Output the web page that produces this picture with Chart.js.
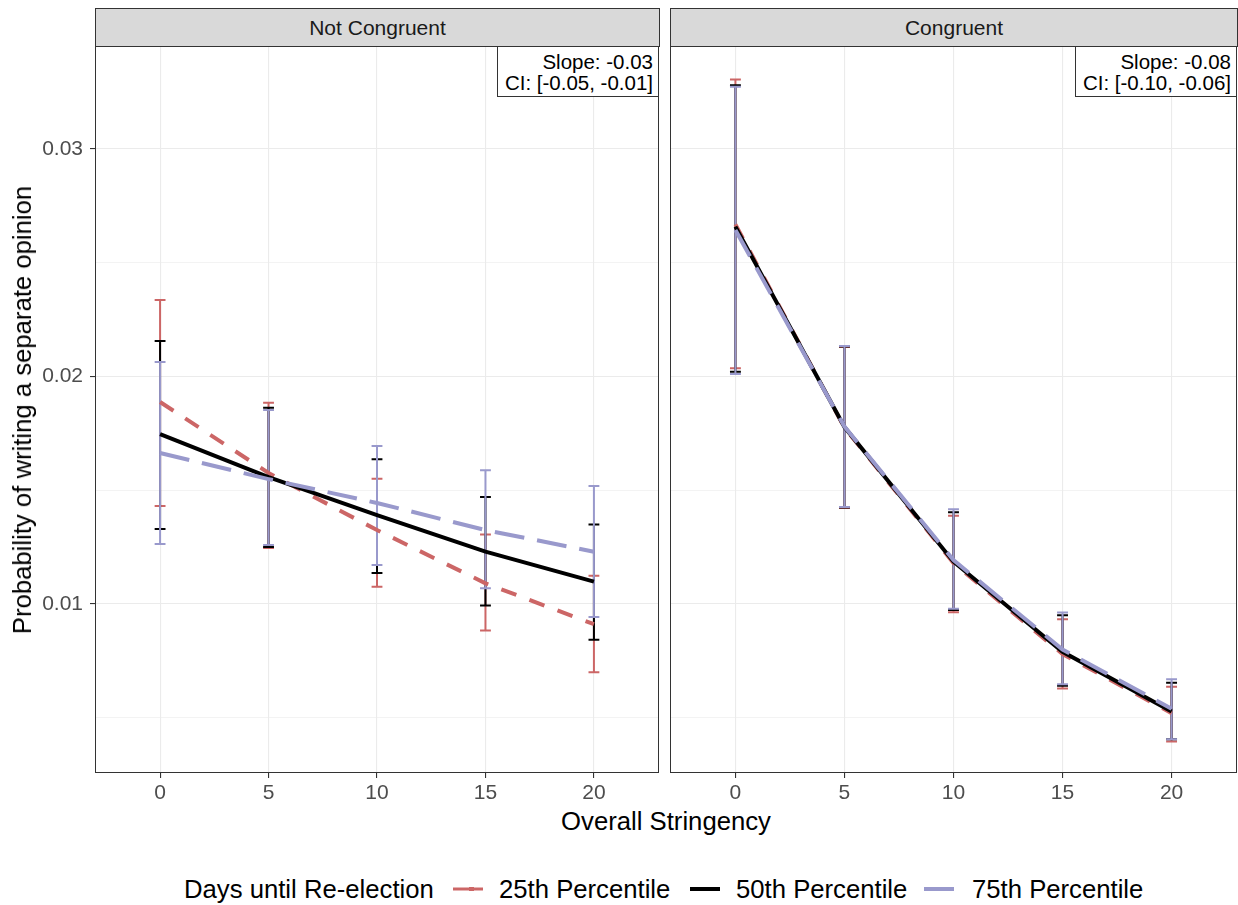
<!DOCTYPE html>
<html>
<head>
<meta charset="utf-8">
<script src="https://cdn.jsdelivr.net/npm/chart.js@4.4.1/dist/chart.umd.min.js"></script>
<style>
  body { margin: 0; background: #fff; font-family: "Liberation Sans", Arial, Helvetica, sans-serif; }
  #wrap { position: relative; width: 1238px; height: 905px; overflow: hidden; background: #fff; }
  canvas { position: absolute; }
  .strip { position: absolute; top: 8px; height: 39px; background: #D9D9D9; border: 1px solid #333; box-sizing: border-box;
           font-size: 21px; color: #1A1A1A; display: flex; align-items: center; justify-content: center; }
  .note { position: absolute; top: 46px; height: 51px; width: 162px; background: #fff; border: 1px solid #333; box-sizing: border-box;
          text-align: right; font-size: 20.5px; line-height: 21px; padding: 4px 5px 0 0; color: #000; white-space: nowrap; z-index: 2; }
  .txt { position: absolute; white-space: nowrap; color: #000; }
  .leg { position: absolute; top: 874px; height: 30px; font-size: 25.7px; line-height: 30px; white-space: nowrap; color: #000; }
  svg.key { position: absolute; top: 884px; }
</style>
</head>
<body>
<div id="wrap">
  <canvas id="cLeft" width="660" height="760" style="left:0px; top:46px;"></canvas>
  <canvas id="cRight" width="568" height="760" style="left:670px; top:46px;"></canvas>

  <div class="strip" id="s0" style="left:95px; width:565px;"></div>
  <div class="strip" id="s1" style="left:670px; width:568px;"></div>

  <div class="note" id="n0" style="left:497px;"></div>
  <div class="note" id="n1" style="left:1075px;"></div>

  <div class="txt" id="xtitle" style="left:0; width:1332px; top:806px; text-align:center; font-size:25.7px; line-height:30px;"></div>
  <div class="txt" id="ytitle" style="left:22px; top:410px; font-size:25.7px; line-height:30px; transform: translate(-50%,-50%) rotate(-90deg);"></div>

  <div class="leg" id="legTitle" style="left:184px;"></div>
  <svg class="key" style="left:453px;" width="30" height="10"><line x1="0" y1="5" x2="30" y2="5" stroke="#CC6666" stroke-width="3"/><line x1="16" y1="5" x2="21" y2="5" stroke="#CC6666" stroke-width="4"/></svg>
  <div class="leg" id="leg0" style="left:499px;"></div>
  <svg class="key" style="left:690px;" width="30" height="10"><line x1="0" y1="5" x2="30" y2="5" stroke="#000000" stroke-width="4"/></svg>
  <div class="leg" id="leg1" style="left:736px;"></div>
  <svg class="key" style="left:924px;" width="30" height="10"><line x1="0" y1="5" x2="30" y2="5" stroke="#9999CC" stroke-width="4"/></svg>
  <div class="leg" id="leg2" style="left:972px;"></div>
</div>

<script>
// ---------- data ----------
const stringency = [0, 5, 10, 15, 20];
const xTickValues = [0, 5, 10, 15, 20];
const yMajorTicks = [0.01, 0.02, 0.03];
const yMajorLabels = ['0.01', '0.02', '0.03'];
const yMinorTicks = [0.005, 0.015, 0.025];
const panelTitles = ['Not Congruent', 'Congruent'];
const seriesNames = ['25th Percentile', '50th Percentile', '75th Percentile'];
const legendTitle = 'Days until Re-election';
const slopeText = ['Slope: -0.03', 'Slope: -0.08'];
const ciText = ['CI: [-0.05, -0.01]', 'CI: [-0.10, -0.06]'];
const xTitle = 'Overall Stringency';
const yTitle = 'Probability of writing a separate opinion';

// Not Congruent
const nc25   = [0.01888, 0.01576, 0.01325, 0.01091, 0.00911];
const nc25Lo = [0.01431, 0.01246, 0.01076, 0.00883, 0.00700];
const nc25Hi = [0.02336, 0.01885, 0.01551, 0.01306, 0.01124];
const nc50   = [0.01747, 0.01558, 0.01391, 0.01230, 0.01098];
const nc50Lo = [0.01330, 0.01251, 0.01136, 0.00993, 0.00843];
const nc50Hi = [0.02156, 0.01863, 0.01636, 0.01470, 0.01349];
const nc75   = [0.01664, 0.01549, 0.01444, 0.01325, 0.01230];
const nc75Lo = [0.01264, 0.01259, 0.01171, 0.01069, 0.00943];
const nc75Hi = [0.02064, 0.01853, 0.01695, 0.01588, 0.01519];

// Congruent
const c25   = [0.02669, 0.01775, 0.01180, 0.00780, 0.00520];
const c25Lo = [0.02036, 0.01422, 0.00964, 0.00628, 0.00395];
const c25Hi = [0.03306, 0.02130, 0.01388, 0.00933, 0.00636];
const c50   = [0.02659, 0.01778, 0.01186, 0.00790, 0.00527];
const c50Lo = [0.02021, 0.01424, 0.00974, 0.00641, 0.00405];
const c50Hi = [0.03281, 0.02132, 0.01403, 0.00950, 0.00654];
const c75   = [0.02644, 0.01780, 0.01193, 0.00800, 0.00539];
const c75Lo = [0.02011, 0.01426, 0.00979, 0.00647, 0.00405];
const c75Hi = [0.03274, 0.02134, 0.01416, 0.00963, 0.00669];

// ---------- style ----------
const FONT = '"Liberation Sans", Arial, Helvetica, sans-serif';
const colors = ['#CC6666', '#000000', '#9999CC'];
const dashes = [[16, 14], [], [30, 13]];
const Y_MIN = 0.00257, Y_MAX = 0.03453;
const X_MIN = -3, X_MAX = 23;

// ---------- text ----------
document.getElementById('s0').textContent = panelTitles[0];
document.getElementById('s1').textContent = panelTitles[1];
document.getElementById('n0').innerHTML = slopeText[0] + '<br>' + ciText[0];
document.getElementById('n1').innerHTML = slopeText[1] + '<br>' + ciText[1];
document.getElementById('xtitle').textContent = xTitle;
document.getElementById('ytitle').textContent = yTitle;
document.getElementById('legTitle').textContent = legendTitle;
seriesNames.forEach((n, i) => document.getElementById('leg' + i).textContent = n);

// ---------- plugins ----------
const isMajor = v => yMajorTicks.some(t => Math.abs(t - v) < 1e-9);

const errorBarPlugin = {
  id: 'errbars',
  beforeDatasetsDraw(chart) {
    const { ctx, scales: { x, y } } = chart;
    ctx.save();
    chart.data.datasets.forEach(ds => {
      ctx.strokeStyle = ds.borderColor;
      ctx.lineWidth = 2;
      ctx.setLineDash([]);
      ds.data.forEach((p, j) => {
        const px = x.getPixelForValue(p.x);
        const hw = x.getPixelForValue(p.x + 0.25) - px;
        const lo = y.getPixelForValue(ds.errLo[j]);
        const hi = y.getPixelForValue(ds.errHi[j]);
        ctx.beginPath();
        ctx.moveTo(px, lo); ctx.lineTo(px, hi);
        ctx.moveTo(px - hw, lo); ctx.lineTo(px + hw, lo);
        ctx.moveTo(px - hw, hi); ctx.lineTo(px + hw, hi);
        ctx.stroke();
      });
    });
    ctx.restore();
  }
};

const borderPlugin = {
  id: 'panelBorder',
  afterDraw(chart) {
    const { ctx, chartArea: a } = chart;
    ctx.save();
    ctx.strokeStyle = '#333333';
    ctx.lineWidth = 1;
    ctx.setLineDash([]);
    ctx.strokeRect(a.left + 0.5, a.top + 0.5, a.right - a.left - 1, a.bottom - a.top - 1);
    ctx.restore();
  }
};

function makePanel(id, showY, series) {
  const datasets = series.map((s, i) => ({
    label: seriesNames[i],
    data: stringency.map((x, j) => ({ x: x, y: s.mean[j] })),
    errLo: s.lo, errHi: s.hi,
    borderColor: colors[i],
    backgroundColor: colors[i],
    borderWidth: 4,
    borderDash: dashes[i],
    borderCapStyle: 'butt',
    pointRadius: 0,
    fill: false,
    tension: 0,
    order: 3 - i
  }));
  return new Chart(document.getElementById(id), {
    type: 'line',
    data: { datasets },
    options: {
      responsive: false,
      animation: false,
      events: [],
      layout: { padding: { left: 0, right: 1, top: 0, bottom: 0 } },
      plugins: { legend: { display: false }, tooltip: { enabled: false } },
      scales: {
        x: {
          type: 'linear', min: X_MIN, max: X_MAX,
          afterBuildTicks: sc => { sc.ticks = xTickValues.map(v => ({ value: v })); },
          afterFit: sc => { sc.height = 33; sc.paddingLeft = 0; sc.paddingRight = 0; },
          grid: { color: '#EBEBEB', lineWidth: 1.1, drawTicks: true, tickLength: 5, tickColor: '#333333', tickWidth: 1.1 },
          border: { display: false },
          ticks: { color: '#4D4D4D', font: { size: 21, family: FONT }, padding: 3, maxRotation: 0, autoSkip: false,
                   callback: v => String(v) }
        },
        y: {
          type: 'linear', min: Y_MIN, max: Y_MAX,
          afterBuildTicks: sc => { sc.ticks = yMinorTicks.concat(yMajorTicks).sort((a, b) => a - b).map(v => ({ value: v })); },
          afterFit: sc => { sc.width = showY ? 95 : 0; sc.paddingTop = 0; sc.paddingBottom = 0; },
          grid: {
            color: '#EBEBEB',
            lineWidth: c => isMajor(c.tick.value) ? 1.1 : 0.6,
            drawTicks: showY, tickLength: 5,
            tickColor: c => isMajor(c.tick.value) ? '#333333' : 'rgba(0,0,0,0)',
            tickWidth: 1.1
          },
          border: { display: false },
          ticks: {
            display: showY,
            color: '#4D4D4D', font: { size: 21, family: FONT }, padding: 7, autoSkip: false,
            callback: v => { const k = yMajorTicks.findIndex(t => Math.abs(t - v) < 1e-9); return k >= 0 ? yMajorLabels[k] : ''; }
          }
        }
      }
    },
    plugins: [errorBarPlugin, borderPlugin]
  });
}

makePanel('cLeft', true, [
  { mean: nc25, lo: nc25Lo, hi: nc25Hi },
  { mean: nc50, lo: nc50Lo, hi: nc50Hi },
  { mean: nc75, lo: nc75Lo, hi: nc75Hi }
]);
makePanel('cRight', false, [
  { mean: c25, lo: c25Lo, hi: c25Hi },
  { mean: c50, lo: c50Lo, hi: c50Hi },
  { mean: c75, lo: c75Lo, hi: c75Hi }
]);
</script>
</body>
</html>
